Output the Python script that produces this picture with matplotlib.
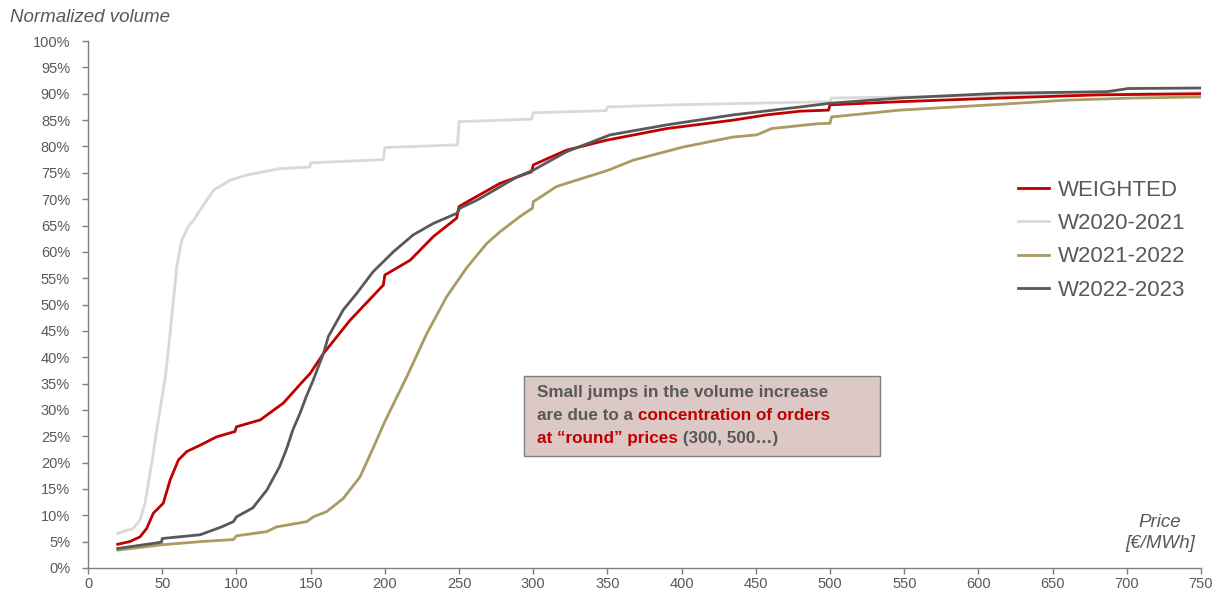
import matplotlib
matplotlib.use("Agg")
import matplotlib.pyplot as plt
from matplotlib.patches import Rectangle
from matplotlib.text import Annotation
from matplotlib.ticker import MultipleLocator, PercentFormatter

plt.rcParams['font.family'] = ['Liberation Sans', 'DejaVu Sans']

# WEIGHTED (red)
w_price = [20, 28, 35, 39.5, 44, 50.7, 55.3, 60.9, 66.5, 75.5, 86.7, 99, 100, 116, 131.6,
           145, 149.6, 158.6, 176.5, 199, 200, 217, 232.7, 248.4, 250, 257.4, 277.6, 298.9,
           300, 322.4, 349.5, 390, 434.8, 457.3, 479.8, 499, 500, 547, 614.6, 682, 750]
w_vol = [4.5, 5.0, 5.9, 7.5, 10.4, 12.3, 16.7, 20.5, 22.1, 23.3, 24.9, 25.9, 26.8, 28.1, 31.3,
         35.5, 36.9, 40.7, 47.0, 53.7, 55.6, 58.4, 62.9, 66.4, 68.6, 69.8, 73.0, 75.2,
         76.5, 79.3, 81.2, 83.4, 85.0, 86.0, 86.7, 86.9, 87.9, 88.5, 89.2, 89.8, 90.0]

# W2020-2021 (light grey)
a_price = [20, 30.5, 35, 38.4, 42.9, 46.3, 49.6, 52, 55.3, 59.8, 63.1, 67.6, 71, 80, 84.5,
           95.7, 107, 129.4, 149.5, 150, 199, 200, 249, 250, 299, 300, 349, 350, 395, 446,
           500, 501, 600, 700, 750]
a_vol = [6.6, 7.5, 9.1, 12.3, 19.9, 26.2, 31.9, 36.0, 44.6, 57.2, 62.2, 64.8, 66.0, 69.8, 71.7,
         73.6, 74.6, 75.8, 76.1, 76.9, 77.5, 79.8, 80.3, 84.7, 85.2, 86.4, 86.8, 87.5, 87.9, 88.2,
         88.5, 89.2, 89.6, 90.0, 90.2]

# W2021-2022 (olive)
b_price = [20, 49.6, 75.5, 98, 100, 120.4, 127, 147.4, 151.8, 160.8, 172, 183.3, 192, 200,
           214.8, 228.3, 241.7, 255.2, 268.7, 277.6, 291, 299.5, 300, 315.7, 333.7, 350.6,
           367.4, 401, 434.8, 450.6, 460.7, 491, 500, 501, 547, 614.6, 659.5, 704.4, 750]
b_vol = [3.4, 4.4, 5.0, 5.4, 6.1, 6.9, 7.8, 8.8, 9.7, 10.7, 13.2, 17.3, 22.7, 27.8,
         36.3, 44.5, 51.5, 57.0, 61.6, 63.8, 66.7, 68.3, 69.5, 72.4, 74.0, 75.5,
         77.4, 79.9, 81.8, 82.2, 83.4, 84.3, 84.4, 85.6, 86.9, 88.0, 88.8, 89.2, 89.4]

# W2022-2023 (dark grey)
c_price = [20, 49.5, 50, 75.5, 90, 98, 100, 111, 120.5, 129, 133.9, 138, 142.9, 147, 151.8,
           158.6, 161.9, 172, 181, 192, 205.7, 219, 232.7, 248.4, 250.7, 262, 266.4, 288.9,
           300, 322.4, 351.8, 390, 434.8, 479.8, 500, 547, 614.6, 686.5, 701, 750]
c_vol = [3.7, 4.9, 5.6, 6.3, 7.8, 8.8, 9.7, 11.4, 14.8, 19.2, 22.7, 26.2, 29.4, 32.5, 35.7,
         40.7, 43.9, 49.0, 52.1, 56.2, 60.0, 63.2, 65.4, 67.3, 68.3, 69.8, 70.5, 74.2,
         75.5, 79.0, 82.2, 84.1, 86.0, 87.5, 88.2, 89.2, 90.1, 90.4, 91.0, 91.1]

series = [
    ("WEIGHTED", w_price, w_vol, "#C00000"),
    ("W2020-2021", a_price, a_vol, "#D9D9D9"),
    ("W2021-2022", b_price, b_vol, "#A99B62"),
    ("W2022-2023", c_price, c_vol, "#595959"),
]

txt = "#595959"
red = "#C00000"

fig = plt.figure(figsize=(12.23, 5.94), dpi=100)
ax = fig.add_axes([0.072, 0.0438, 0.910, 0.887])

# light grey first so the others sit on top, legend order kept
order = [1, 2, 0, 3]
handles = {}
for i in order:
    name, px, vy, col = series[i]
    ln, = ax.plot(px, vy, color=col, lw=2, label=name, zorder=2 + order.index(i))
    handles[name] = ln

ax.set_xlim(0, 750)
ax.set_ylim(0, 100)
ax.xaxis.set_major_locator(MultipleLocator(50))
ax.yaxis.set_major_locator(MultipleLocator(5))
ax.yaxis.set_major_formatter(PercentFormatter(decimals=0))

for s in ['top', 'right']:
    ax.spines[s].set_visible(False)
for s in ['left', 'bottom']:
    ax.spines[s].set_color('#7F7F7F')
    ax.spines[s].set_linewidth(1)
ax.tick_params(axis='both', direction='out', length=4, width=1, color='#7F7F7F',
               labelsize=10.5, labelcolor=txt)
ax.tick_params(axis='y', pad=9)
ax.tick_params(axis='x', pad=2.5)

fig.text(10 / 1223, 1 - 18 / 594, "Normalized volume", fontsize=13.5, style='italic',
         color=txt, ha='left', va='center')
fig.text(1160 / 1223, 1 - 533 / 594, "Price\n[€/MWh]", fontsize=13.5, style='italic',
         color=txt, ha='center', va='center', multialignment='center', linespacing=1.25)

names = [s[0] for s in series]
leg = ax.legend([handles[n] for n in names], names, loc='upper left',
                bbox_to_anchor=(1018 / 1223, 1 - 180 / 594), bbox_transform=fig.transFigure,
                frameon=False, fontsize=16, handlelength=1.4, handletextpad=0.4,
                labelspacing=0.55, borderpad=0, borderaxespad=0)
for t in leg.get_texts():
    t.set_color(txt)

# annotation box
fig.patches.append(Rectangle((524 / 1223, 1 - 456 / 594), 356 / 1223, 80 / 594,
                             transform=fig.transFigure, facecolor="#DCC9C5",
                             edgecolor="#7F7F7F", lw=1, zorder=5))

fs = 12.3
x0 = 537 / 1223
l1 = fig.text(x0, 1 - 392 / 594, "Small jumps in the volume increase", fontsize=fs,
              weight='bold', color=txt, ha='left', va='center', zorder=6)
l2 = fig.text(x0, 1 - 415 / 594, "are due to a ", fontsize=fs, weight='bold', color=txt,
              ha='left', va='center', zorder=6)
fig.add_artist(Annotation("concentration of orders", xy=(1, 0), xycoords=l2, va='bottom',
                          ha='left', fontsize=fs, weight='bold', color=red, zorder=6))
l3 = fig.text(x0, 1 - 438 / 594, "at \u201cround\u201d prices", fontsize=fs, weight='bold',
              color=red, ha='left', va='center', zorder=6)
fig.add_artist(Annotation(" (300, 500\u2026)", xy=(1, 0), xycoords=l3, va='bottom',
                          ha='left', fontsize=fs, weight='bold', color=txt, zorder=6))

fig.savefig("out.png", dpi=100)
